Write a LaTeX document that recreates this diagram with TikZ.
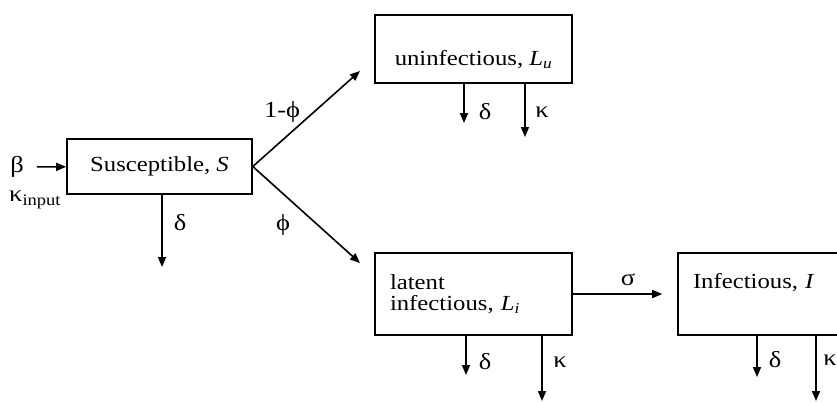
\documentclass[tikz,border=0pt]{standalone}
\usepackage{fontspec}
\setmainfont{Liberation Serif}[FakeStretch=1.15]
\usetikzlibrary{arrows.meta}

\tikzset{
  comp/.style={draw, line width=1.6pt, rectangle, inner sep=0pt, minimum width=197pt, minimum height=82pt},
  flow/.style={-{Triangle[length=10pt,width=8pt]}, line width=1.6pt},
  rate/.style={inner sep=1pt, font=\fontsize{23}{24}\selectfont},
}

\begin{document}
\begin{tikzpicture}[x=1pt,y=1pt,yscale=-1,xscale=1,font=\fontsize{21.5}{20.5}\selectfont]
		\useasboundingbox (0,0) rectangle (837,402);

		% Compartments
		\node[comp, minimum width=185pt, minimum height=55pt] (S) at (159.5,166.5) {Susceptible, \textit{S}};
		\node[comp, minimum height=68pt, text height=36pt, text depth=4pt] (Lu) at (473.5,49) {uninfectious, \textit{L\textsubscript{u}}};
		\node[comp, text width=167pt, align=left] (Li) at (473.5,294) {latent\\infectious, \textit{L\textsubscript{i}}};
		\node[comp, text width=167pt, align=left] (I) at (776.5,294) {Infectious, \textit{I}\\\strut};

		% Input into S
		\node[rate] (beta) at (17,167) {β};
		\node[rate, anchor=west] (kin) at (8,200) {κ\textsubscript{input}};
		\draw[flow, shorten <=12pt] (beta) -- (S);

		% Split of new infections
		\coordinate (uEnd) at (360,71);
		\coordinate (iEnd) at (360,263);
		\draw[flow] (S.east) -- (uEnd);
		\draw[flow] (S.east) -- (iEnd);
		\node[rate] (phiU) at (282,112) {1-ϕ};
		\node[rate] (phiI) at (283,225) {ϕ};

		% Progression to infectious
		\draw[flow, shorten >=15pt] (Li) -- (I);
		\node[rate] (sigma) at (628,280) {σ};

		% Losses out of each box
		\coordinate (sOut) at (162,267);
		\draw[flow] (S.south -| sOut) -- (sOut);
		\node[rate] (dS) at (180,223) {δ};

		\coordinate (uOutD) at (464,123);
		\coordinate (uOutK) at (525,137);
		\draw[flow] (Lu.south -| uOutD) -- (uOutD);
		\draw[flow] (Lu.south -| uOutK) -- (uOutK);
		\node[rate] (dU) at (485,112) {δ};
		\node[rate] (kU) at (542,112) {κ};

		\coordinate (iOutD) at (466,375);
		\coordinate (iOutK) at (542,401);
		\draw[flow] (Li.south -| iOutD) -- (iOutD);
		\draw[flow] (Li.south -| iOutK) -- (iOutK);
		\node[rate] (dL) at (485,362) {δ};
		\node[rate] (kL) at (560,362) {κ};

		\coordinate (fOutD) at (757,377);
		\coordinate (fOutK) at (816,401);
		\draw[flow] (I.south -| fOutD) -- (fOutD);
		\draw[flow] (I.south -| fOutK) -- (fOutK);
		\node[rate] (dI) at (775,360) {δ};
		\node[rate] (kI) at (830,360) {κ};
	\end{tikzpicture}
\end{document}
